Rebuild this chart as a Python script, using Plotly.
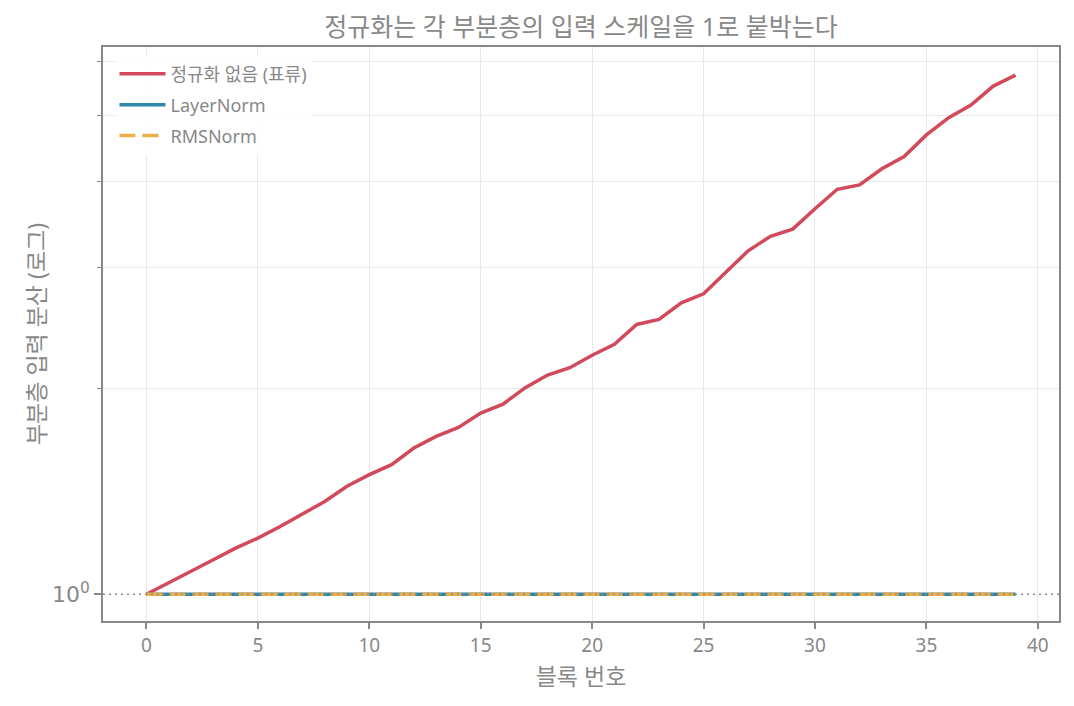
import plotly.graph_objects as go

# 블록 번호와 부분층 입력 분산
blocks = list(range(40))
var_no_norm = [1.000, 1.039, 1.078, 1.123, 1.168, 1.208, 1.256, 1.311, 1.366, 1.438,
               1.495, 1.546, 1.635, 1.700, 1.752, 1.839, 1.895, 2.003, 2.090, 2.142,
               2.234, 2.317, 2.477, 2.519, 2.664, 2.746, 2.953, 3.173, 3.331, 3.413,
               3.655, 3.902, 3.960, 4.180, 4.356, 4.684, 4.964, 5.180, 5.520, 5.728]
var_layernorm = [1.0] * 40
var_rmsnorm = [1.0] * 40

y_tickvals = [1]
y_ticktext = ["10<sup>0</sup>"]
y_minor_vals = [2, 3, 4, 5, 6]
x_tickvals = [0, 5, 10, 15, 20, 25, 30, 35, 40]

FONT = "Noto Sans, Noto Sans CJK KR"
GRAY = "#888888"
GRID = "#e8e8e8"

fig = go.Figure()

fig.add_trace(go.Scatter(x=blocks, y=var_no_norm, mode="lines", name="정규화 없음 (표류)",
                         legendgroup="a", line=dict(color="#d1495b", width=3.5)))
fig.add_trace(go.Scatter(x=blocks, y=var_layernorm, mode="lines", name="LayerNorm",
                         legendgroup="b", line=dict(color="#2e86ab", width=3.5)))
fig.add_trace(go.Scatter(x=blocks, y=var_rmsnorm, mode="lines", name="RMSNorm",
                         legendgroup="c", line=dict(color="#edae49", width=3.5, dash="16px,7px")))

# y=1 기준선 (점선, 맨 위에)
fig.add_trace(go.Scatter(x=[-1.95, 40.95], y=[1, 1], mode="lines",
                         line=dict(color="#8a8a8a", width=1.5, dash="2px,4px"),
                         showlegend=False, hoverinfo="skip"))

fig.update_layout(
    width=1066, height=698,
    paper_bgcolor="white", plot_bgcolor="white",
    margin=dict(l=95, r=15, t=39, b=85),
    font=dict(family=FONT, color=GRAY, size=18),
    title=dict(text="정규화는 각 부분층의 입력 스케일을 1로 붙박는다",
               x=0.5, xref="paper", xanchor="center", y=0.973, yanchor="middle",
               font=dict(size=25, color=GRAY)),
    legend=dict(x=0.012, y=0.985, xanchor="left", yanchor="top",
                bgcolor="rgba(255,255,255,0.8)", borderwidth=0,
                font=dict(size=18, color=GRAY), itemwidth=46, tracegroupgap=4.5),
)

fig.update_xaxes(
    range=[-1.95, 40.95], tickmode="array", tickvals=x_tickvals,
    showgrid=True, gridcolor=GRID, gridwidth=1.2, zeroline=False,
    showline=True, linecolor=GRAY, linewidth=1.5, mirror=True,
    ticks="outside", ticklen=6, tickwidth=1.5, tickcolor=GRAY,
    tickfont=dict(size=19),
    title=dict(text="블록 번호", font=dict(size=23), standoff=12),
)
fig.update_yaxes(
    type="log", range=[-0.039, 0.799],
    tickmode="array", tickvals=y_tickvals, ticktext=y_ticktext,
    showgrid=False, zeroline=False,
    showline=True, linecolor=GRAY, linewidth=1.5, mirror=True,
    ticks="outside", ticklen=7, tickwidth=1.5, tickcolor=GRAY,
    tickfont=dict(size=22, family="DejaVu Sans"),
    minor=dict(tickmode="array", tickvals=y_minor_vals, ticks="outside", ticklen=4,
               tickwidth=1.2, tickcolor=GRAY, showgrid=True, gridcolor=GRID, gridwidth=1.2),
    title=dict(text="부분층 입력 분산 (로그)", font=dict(size=23), standoff=0),
)

fig.write_html("out.html")
